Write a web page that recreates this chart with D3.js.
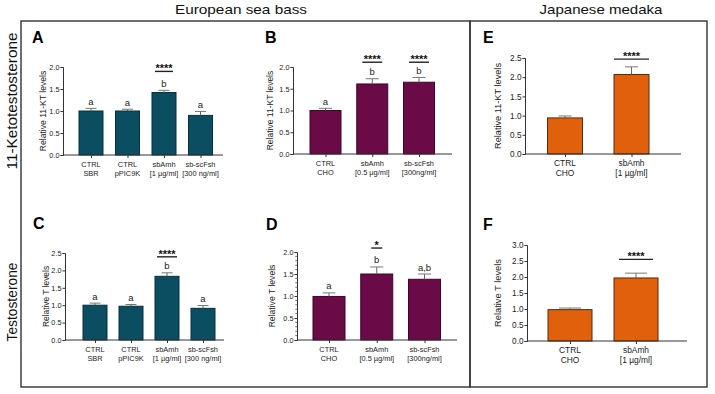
<!DOCTYPE html>
<html><head><meta charset="utf-8">
<script src="https://cdn.jsdelivr.net/npm/d3@7"></script>
<style>body{margin:0;background:#fff}svg{display:block;font-family:"Liberation Sans",Arial,sans-serif}</style>
</head><body><svg id="c" width="715" height="394"></svg>
<script>
// ---------- DATA ----------
const catsA = ["CTRL\nSBR","CTRL\npPIC9K","sbAmh\n[1 µg/ml]","sb-scFsh\n[300 ng/ml]"];
const meanA = [1.00, 1.00, 1.42, 0.90];
const errA  = [0.06, 0.04, 0.05, 0.09];
const letA  = ["a","a","b","a"];
const sigA  = ["","","****",""];
const sigLvA = [null,null,1.90,null];
const ticksA = [0,0.5,1.0,1.5,2.0];

const catsB = ["CTRL\nCHO","sbAmh\n[0.5 µg/ml]","sb-scFsh\n[300ng/ml]"];
const meanB = [1.00, 1.61, 1.65];
const errB  = [0.05, 0.12, 0.11];
const letB  = ["a","b","b"];
const sigB  = ["","****","****"];
const sigLvB = [null,2.11,2.11];
const ticksB = [0,0.5,1.0,1.5,2.0];

const catsC = ["CTRL\nSBR","CTRL\npPIC9K","sbAmh\n[1 µg/ml]","sb-scFsh\n[300 ng/ml]"];
const meanC = [1.00, 0.97, 1.83, 0.91];
const errC  = [0.06, 0.05, 0.10, 0.08];
const letC  = ["a","a","b","a"];
const sigC  = ["","","****",""];
const sigLvC = [null,null,2.39,null];
const ticksC = [0,0.5,1.0,1.5,2.0,2.5];

const catsD = ["CTRL\nCHO","sbAmh\n[0.5 µg/ml]","sb-scFsh\n[300ng/ml]"];
const meanD = [0.99, 1.50, 1.38];
const errD  = [0.08, 0.16, 0.12];
const letD  = ["a","b","a,b"];
const sigD  = ["","*",""];
const sigLvD = [null,2.09,null];
const ticksD = [0,0.5,1.0,1.5,2.0];

const catsE = ["CTRL\nCHO","sbAmh\n[1 µg/ml]"];
const meanE = [0.94, 2.07];
const errE  = [0.05, 0.20];
const letE  = ["",""];
const sigE  = ["","****"];
const sigLvE = [null,2.47];
const ticksE = [0,0.5,1.0,1.5,2.0,2.5];

const catsF = ["CTRL\nCHO","sbAmh\n[1 µg/ml]"];
const meanF = [0.98, 1.97];
const errF  = [0.05, 0.15];
const letF  = ["",""];
const sigF  = ["","****"];
const sigLvF = [null,2.55];
const ticksF = [0,0.5,1.0,1.5,2.0,2.5,3.0];

// ---------- LAYOUT ----------
const teal = {fill:"#0b4d61", stroke:"#06303d"};
const purple = {fill:"#6a0a47", stroke:"#3e0429"};
const orange = {fill:"#e0600c", stroke:"#5a2a0c"};

const panels = [
 {id:"A", cats:catsA, mean:meanA, err:errA, let:letA, sig:sigA, sigLv:sigLvA, ticks:ticksA, col:teal,
  L:63, R:223, B:155, T:67, first:91, last:200.5, bw:24, cap:11, sigW:18, ytitle:"Relative 11-KT levels", ytx:43, lx:32, ly:43, tf:7.3, cf:7.4, yf:8.6},
 {id:"B", cats:catsB, mean:meanB, err:errB, let:letB, sig:sigB, sigLv:sigLvB, ticks:ticksB, col:purple,
  L:293, R:452, B:154, T:67, first:325.5, last:419, bw:31, cap:13, sigW:20, ytitle:"Relative 11-KT levels", ytx:270, lx:265, ly:43, tf:7.3, cf:7.4, yf:8.5},
 {id:"C", cats:catsC, mean:meanC, err:errC, let:letC, sig:sigC, sigLv:sigLvC, ticks:ticksC, col:teal,
  L:65, R:224, B:340, T:253, first:95, last:203, bw:24, cap:11, sigW:20, ytitle:"Relative T levels", ytx:46, lx:33, ly:229, tf:7.3, cf:7.4, yf:8.4},
 {id:"D", cats:catsD, mean:meanD, err:errD, let:letD, sig:sigD, sigLv:sigLvD, ticks:ticksD, col:purple, minor:0.1,
  L:297, R:457, B:340, T:252, first:329, last:424.5, bw:32, cap:13, sigW:11, ytitle:"Relative T levels", ytx:272, lx:266, ly:230, tf:7.3, cf:7.4, yf:8.6},
 {id:"E", cats:catsE, mean:meanE, err:errE, let:letE, sig:sigE, sigLv:sigLvE, ticks:ticksE, col:orange,
  L:525, R:681, B:154, T:58, first:565, last:631.5, bw:35, cap:13, sigW:35, ytitle:"Relative 11-KT levels", ytx:498, lx:483, ly:43, tf:8.2, cf:8.4, yf:9.2},
 {id:"F", cats:catsF, mean:meanF, err:errF, let:letF, sig:sigF, sigLv:sigLvF, ticks:ticksF, col:orange,
  L:527, R:687, B:341, T:245, first:570, last:636, bw:44, cap:22, sigW:34, ytitle:"Relative T levels", ytx:498, lx:483, ly:230, tf:8.2, cf:8.4, yf:9.3}
];

const svg = d3.select("#c");

svg.append("rect").attr("x",21).attr("y",21).attr("width",449).attr("height",366)
  .attr("fill","none").attr("stroke","#333").attr("stroke-width",1.4);
svg.append("rect").attr("x",470).attr("y",21).attr("width",237).attr("height",366)
  .attr("fill","none").attr("stroke","#333").attr("stroke-width",1.4);

svg.append("text").attr("x",241).attr("y",14).attr("text-anchor","middle")
  .attr("font-size",13).attr("fill","#111").attr("textLength",132).attr("lengthAdjust","spacingAndGlyphs").text("European sea bass");
svg.append("text").attr("x",601).attr("y",14).attr("text-anchor","middle")
  .attr("font-size",13).attr("fill","#111").attr("textLength",123).attr("lengthAdjust","spacingAndGlyphs").text("Japanese medaka");
svg.append("text").attr("transform","translate(17,101) rotate(-90)").attr("text-anchor","middle")
  .attr("font-size",14).attr("fill","#111").attr("textLength",137).attr("lengthAdjust","spacingAndGlyphs").text("11-Ketotestosterone");
svg.append("text").attr("transform","translate(17,302) rotate(-90)").attr("text-anchor","middle")
  .attr("font-size",14).attr("fill","#111").attr("textLength",79).attr("lengthAdjust","spacingAndGlyphs").text("Testosterone");

panels.forEach(p => {
  const g = svg.append("g");
  const y = d3.scaleLinear().domain([0, d3.max(p.ticks)]).range([p.B, p.T]);
  const x = d3.scalePoint().domain(p.cats).range([p.first, p.last]);
  const rows = p.cats.map((c,i)=>({c, m:p.mean[i], e:p.err[i], l:p.let[i], s:p.sig[i], sl:p.sigLv[i]}));

  g.append("text").attr("x",p.lx).attr("y",p.ly).attr("font-size",16).attr("font-weight","bold")
   .attr("fill","#000").text(p.id);

  g.selectAll("rect.bar").data(rows).join("rect").attr("class","bar")
    .attr("x",d=>x(d.c)-p.bw/2).attr("width",p.bw)
    .attr("y",d=>y(d.m)).attr("height",d=>y(0)-y(d.m))
    .attr("fill",p.col.fill).attr("stroke",p.col.stroke).attr("stroke-width",1);

  g.selectAll("line.ev").data(rows).join("line").attr("class","ev")
    .attr("x1",d=>x(d.c)).attr("x2",d=>x(d.c)).attr("y1",d=>y(d.m)).attr("y2",d=>y(d.m+d.e))
    .attr("stroke","#666").attr("stroke-width",1);
  g.selectAll("line.ec").data(rows).join("line").attr("class","ec")
    .attr("x1",d=>x(d.c)-p.cap/2).attr("x2",d=>x(d.c)+p.cap/2).attr("y1",d=>y(d.m+d.e)).attr("y2",d=>y(d.m+d.e))
    .attr("stroke","#777").attr("stroke-width",1);

  g.selectAll("text.lt").data(rows.filter(d=>d.l)).join("text").attr("class","lt")
    .attr("x",d=>x(d.c)).attr("y",d=>y(d.m+d.e)-3.5).attr("text-anchor","middle")
    .attr("font-size",9.5).attr("fill","#222").text(d=>d.l);

  const sg = rows.filter(d=>d.s);
  g.selectAll("line.sl").data(sg).join("line").attr("class","sl")
    .attr("x1",d=>x(d.c)-p.sigW/2).attr("x2",d=>x(d.c)+p.sigW/2).attr("y1",d=>y(d.sl)).attr("y2",d=>y(d.sl))
    .attr("stroke","#222").attr("stroke-width",1.4);
  g.selectAll("text.st").data(sg).join("text").attr("class","st")
    .attr("x",d=>x(d.c)).attr("y",d=>y(d.sl)+1).attr("text-anchor","middle")
    .attr("font-size",11).attr("font-weight","bold").attr("fill","#111").text(d=>d.s);

  const ya = g.append("g").attr("transform",`translate(${p.L},0)`)
    .call(d3.axisLeft(y).tickValues(p.ticks).tickFormat(d3.format(".1f")).tickSize(2.5).tickPadding(1));
  ya.attr("font-family",null);
  ya.select(".domain").attr("stroke","#333");
  ya.selectAll(".tick line").attr("stroke","#333");
  ya.selectAll(".tick text").attr("font-size",p.tf).attr("fill","#222");
  if (p.minor) {
    const mt = d3.range(0, d3.max(p.ticks)+1e-9, p.minor).filter(v=>!p.ticks.some(t=>Math.abs(t-v)<1e-6));
    g.selectAll("line.mt").data(mt).join("line").attr("class","mt")
      .attr("x1",p.L-1.8).attr("x2",p.L).attr("y1",d=>y(d)).attr("y2",d=>y(d)).attr("stroke","#555").attr("stroke-width",0.8);
  }

  g.append("line").attr("x1",p.L).attr("x2",p.R).attr("y1",y(0)).attr("y2",y(0)).attr("stroke","#333").attr("stroke-width",1);
  const xa = g.append("g").attr("transform",`translate(0,${y(0)})`)
    .call(d3.axisBottom(x).tickSize(3).tickFormat(""));
  xa.select(".domain").remove();
  xa.selectAll(".tick line").attr("stroke","#333");
  g.selectAll("text.cl").data(rows).join("text").attr("class","cl")
    .attr("text-anchor","middle").attr("font-size",p.cf).attr("fill","#222")
    .each(function(d){
      const t = d3.select(this);
      d.c.split("\n").forEach((s,i)=>{
        t.append("tspan").attr("x",x(d.c)).attr("y",y(0)+12+i*(p.cf+1.6)).text(s);
      });
    });

  g.append("text").attr("transform",`translate(${p.ytx},${(p.B+p.T)/2}) rotate(-90)`)
    .attr("text-anchor","middle").attr("dominant-baseline","central")
    .attr("font-size",p.yf).attr("fill","#222").text(p.ytitle);
});
</script></body></html>
